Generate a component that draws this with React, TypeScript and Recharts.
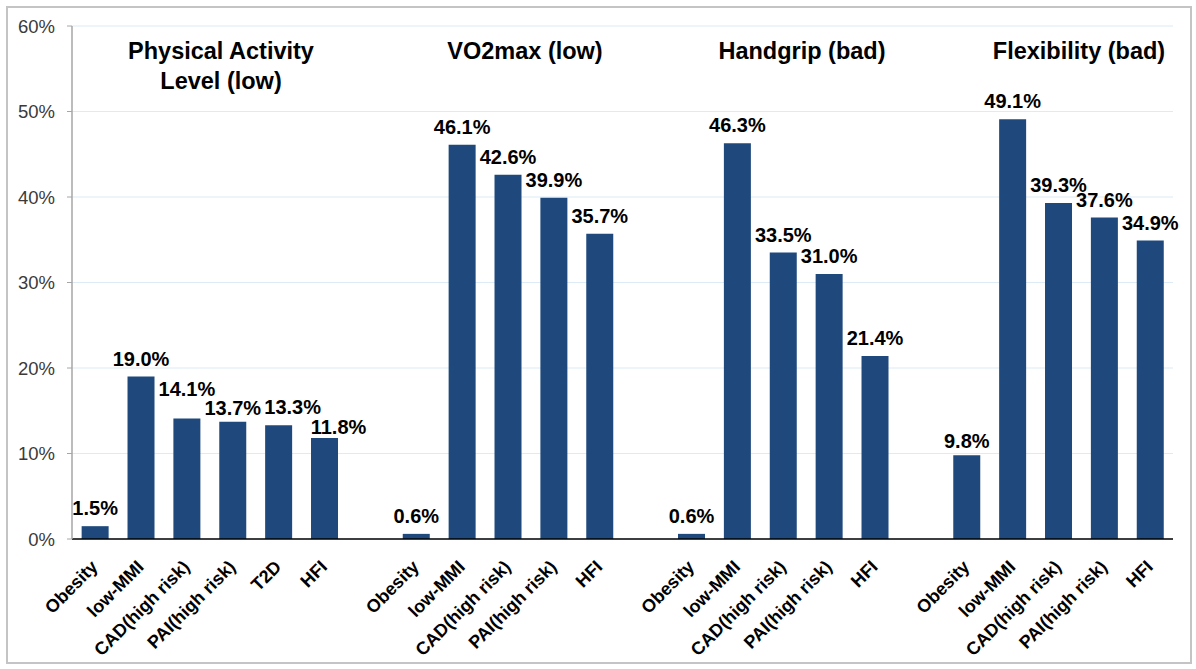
import { BarChart, Bar, XAxis, YAxis, CartesianGrid, LabelList } from "recharts";

// categories per group (an empty slot separates the groups)
const palCategories = ["Obesity", "low-MMI", "CAD(high risk)", "PAI(high risk)", "T2D", "HFI"];
const otherCategories = ["Obesity", "low-MMI", "CAD(high risk)", "PAI(high risk)", "HFI"];

// percentages
const palValues = [1.5, 19.0, 14.1, 13.7, 13.3, 11.8];
const vo2Values = [0.6, 46.1, 42.6, 39.9, 35.7];
const gripValues = [0.6, 46.3, 33.5, 31.0, 21.4];
const flexValues = [9.8, 49.1, 39.3, 37.6, 34.9];

const groupTitles = ["Physical Activity\nLevel (low)", "VO2max (low)", "Handgrip (bad)", "Flexibility (bad)"];
const yTicks = [0, 10, 20, 30, 40, 50, 60];

const FONT = '"Liberation Sans", Arial, sans-serif';
const BAR = "#1F497D";

type Row = { name: string; value: number | null };

const groups: Array<[string[], number[]]> = [
  [palCategories, palValues],
  [otherCategories, vo2Values],
  [otherCategories, gripValues],
  [otherCategories, flexValues],
];

const data: Row[] = [];
groups.forEach(([cats, vals], gi) => {
  if (gi > 0) data.push({ name: "", value: null });
  cats.forEach((c, i) => data.push({ name: c, value: vals[i] }));
});

// the original had a few labels dragged by hand to avoid overlaps
const labelNudge: Record<number, { dx: number; dy: number }> = {
  2: { dx: 0, dy: -11 },
  3: { dx: 0, dy: 4 },
  4: { dx: 14, dy: 0 },
  5: { dx: 14, dy: 7 },
  16: { dx: 0, dy: 4 },
  21: { dx: 0, dy: -12 },
};

function ValueLabel(props: any) {
  const { x, y, width, value, index } = props;
  if (value == null) return null;
  const n = labelNudge[index] || { dx: 0, dy: 0 };
  return (
    <text
      x={x + width / 2 + n.dx}
      y={y - 11 + n.dy}
      textAnchor="middle"
      fontFamily={FONT}
      fontWeight="bold"
      fontSize={20}
      fill="#000"
    >
      {`${Number(value).toFixed(1)}%`}
    </text>
  );
}

function AngledTick(props: any) {
  const { x, y, payload } = props;
  if (!payload.value) return null;
  return (
    <g transform={`translate(${x + 4},${y + 21})`}>
      <text
        x={0}
        y={0}
        textAnchor="end"
        transform="rotate(-45)"
        fontFamily={FONT}
        fontWeight="bold"
        fontSize={18}
        fill="#000"
      >
        {payload.value}
      </text>
    </g>
  );
}

// title overlay positions (centre x, top y)
const titlePos = [
  { x: 221, y: 36 },
  { x: 525, y: 36 },
  { x: 802, y: 36 },
  { x: 1079, y: 36 },
];

export default function App() {
  return (
    <div style={{ position: "absolute", left: 0, top: 0, width: 1196, height: 669, background: "#fff" }}>
      <div
        style={{
          position: "absolute",
          left: 6,
          top: 6,
          width: 1182,
          height: 654,
          border: "2px solid #c4c4c4",
        }}
      />
      <BarChart
        width={1196}
        height={669}
        data={data}
        margin={{ top: 26, right: 23, left: 0, bottom: 0 }}
        barCategoryGap="21%"
        style={{ position: "absolute", left: 0, top: 0 }}
      >
        <CartesianGrid vertical={false} stroke="#dcebf5" />
        <XAxis
          dataKey="name"
          height={130}
          interval={0}
          tickLine={false}
          axisLine={{ stroke: "#000", strokeWidth: 1.5 }}
          tick={<AngledTick />}
        />
        <YAxis
          width={72}
          domain={[0, 60]}
          ticks={yTicks}
          tickFormatter={(v: number) => `${v}%`}
          tickSize={5}
          tickMargin={12}
          axisLine={{ stroke: "#a6a6a6", strokeWidth: 1.5 }}
          tickLine={{ stroke: "#a6a6a6" }}
          tick={{ fontFamily: FONT, fontSize: 18.5, fill: "#3a3a3a" }}
        />
        <Bar dataKey="value" fill={BAR} isAnimationActive={false}>
          <LabelList dataKey="value" content={<ValueLabel />} />
        </Bar>
      </BarChart>
      {groupTitles.map((t, i) => (
        <div
          key={i}
          style={{
            position: "absolute",
            left: titlePos[i].x - 150,
            top: titlePos[i].y,
            width: 300,
            textAlign: "center",
            fontFamily: FONT,
            fontWeight: "bold",
            fontSize: 23.5,
            lineHeight: "30px",
            whiteSpace: "pre-line",
            color: "#000",
          }}
        >
          {t}
        </div>
      ))}
    </div>
  );
}
